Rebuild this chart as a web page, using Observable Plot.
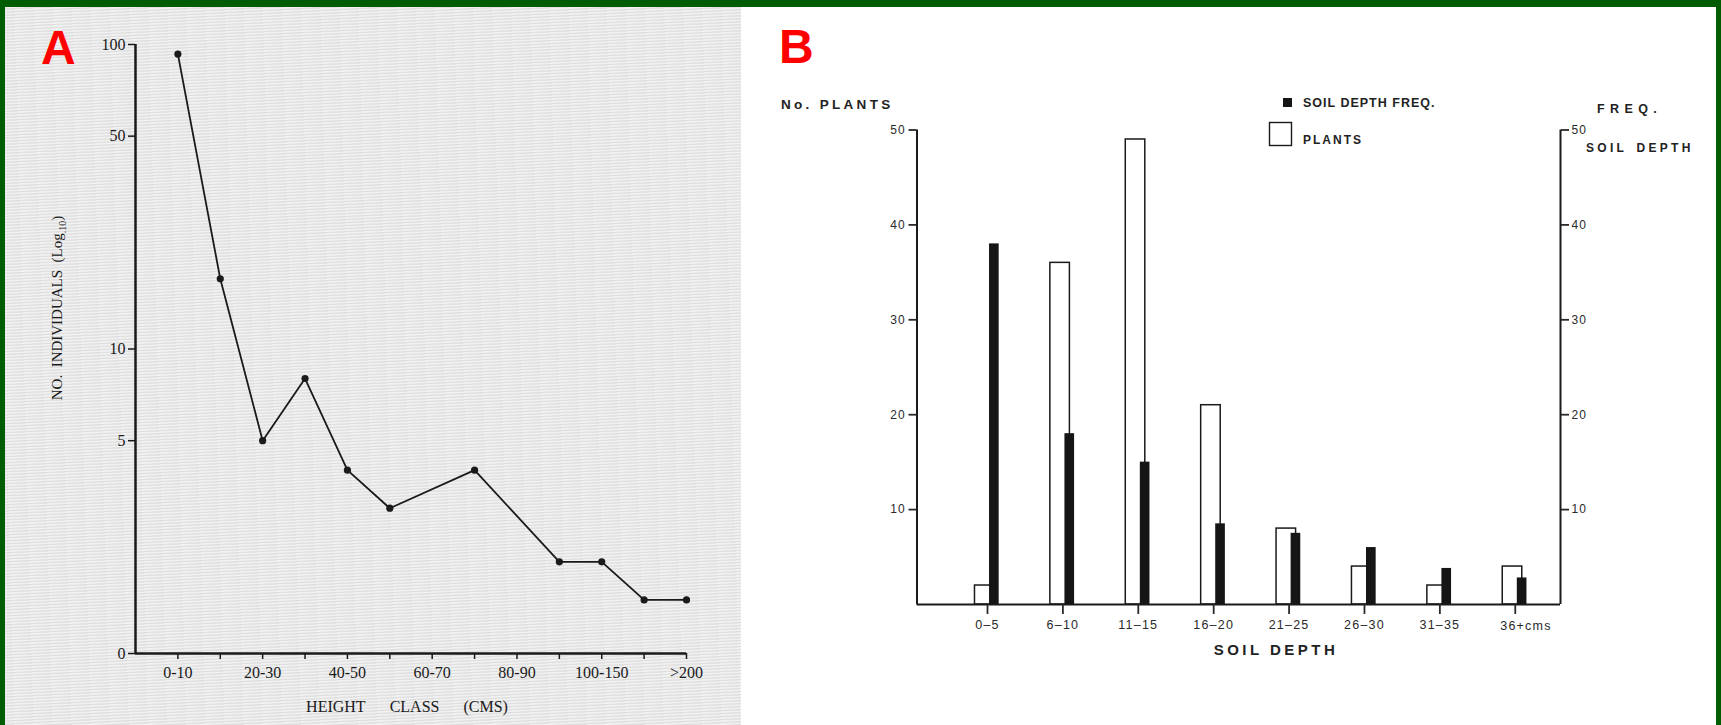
<!DOCTYPE html>
<html>
<head>
<meta charset="utf-8">
<script src="https://cdn.jsdelivr.net/npm/d3@7"></script>
<script src="https://cdn.jsdelivr.net/npm/@observablehq/plot@0.6"></script>
<style>
  html, body { margin: 0; padding: 0; }
  body { width: 1721px; height: 725px; background: #005c00; position: relative; overflow: hidden; }
  #panelA { position: absolute; left: 5px; top: 7px; width: 736px; height: 718px;
    background-color: #e6e6e6;
    background-image: repeating-linear-gradient(177deg, rgba(255,255,255,0.45) 0px, rgba(255,255,255,0.45) 1px, rgba(0,0,0,0.035) 2px, rgba(0,0,0,0) 3px); }
  #panelB { position: absolute; left: 741px; top: 7px; width: 975px; height: 718px; background: #ffffff; }
  #panelA svg, #panelB svg { position: absolute; left: 0; top: 0; }
  #panelB svg text { letter-spacing: 1.2px; }
  #overlay { position: absolute; left: 0; top: 0; pointer-events: none; }
  .serif { font-family: "Liberation Serif", "Times New Roman", serif; fill: #1a1a1a; }
  .bold { font-family: "Liberation Sans", Arial, sans-serif; font-weight: bold; fill: #222; }
  .tag { font-family: "Liberation Sans", Arial, sans-serif; font-weight: bold; fill: #ff0000; font-size: 48px; }
</style>
</head>
<body>
<div id="panelA"></div>
<div id="panelB"></div>
<svg id="overlay" width="1721" height="725">
  <text class="tag" x="41" y="64">A</text>
  <text class="tag" x="779" y="63">B</text>
  <!-- panel A axis titles -->
  <text class="serif" font-size="15" text-anchor="middle" transform="translate(62,308) rotate(-90)">NO.&#8194;INDIVIDUALS&#8194;(Log<tspan font-size="10" dy="4">.10</tspan><tspan dy="-4">)</tspan></text>
  <text class="serif" font-size="16" text-anchor="middle" x="407" y="712">HEIGHT&#8195;&#8194;CLASS&#8195;&#8194;(CMS)</text>
  <!-- panel B titles and legend -->
  <text class="bold" font-size="13.5" letter-spacing="3.3" x="781" y="109">No. PLANTS</text>
  <rect x="1283" y="98" width="9" height="9" fill="#151515"></rect>
  <text class="bold" font-size="12.5" letter-spacing="1" x="1303" y="107">SOIL DEPTH FREQ.</text>
  <rect x="1269.5" y="122.5" width="22" height="23" fill="none" stroke="#1a1a1a" stroke-width="1.4"></rect>
  <text class="bold" font-size="12" letter-spacing="2" x="1303" y="144">PLANTS</text>
  <text class="bold" font-size="12.5" letter-spacing="5.4" x="1597" y="112.5">FREQ.</text>
  <text class="bold" font-size="12" letter-spacing="3.3" x="1586" y="151.5">SOIL&#8194;DEPTH</text>
  <text class="bold" font-size="15" letter-spacing="3.5" text-anchor="middle" x="1276" y="655">SOIL DEPTH</text>
</svg>
<script>
// ---------- Panel A data ----------
const heightClasses = ["0-10", "10-20", "20-30", "30-40", "40-50", "50-60", "60-70", "70-80", "80-90", "90-100", "100-150", "150-200", ">200"];
const heightLabels = ["0-10", "20-30", "40-50", "60-70", "80-90", "100-150", ">200"];
const sampledClasses = ["0-10", "10-20", "20-30", "30-40", "40-50", "50-60", "70-80", "90-100", "100-150", "150-200", ">200"];
const individuals = [93, 17, 5, 8, 4, 3, 4, 2, 2, 1.5, 1.5];
const yTicksA = [1, 5, 10, 50, 100];

// ---------- Panel B data ----------
const soilDepth = ["0\u20135", "6\u201310", "11\u201315", "16\u201320", "21\u201325", "26\u201330", "31\u201335", "36+cms"];
const plants = [2, 36, 49, 21, 8, 4, 2, 4];
const depthFreq = [38, 18, 15, 8.5, 7.5, 6, 3.8, 2.8];
const yTicksB = [10, 20, 30, 40, 50];

// ---------- Panel A ----------
const dataA = sampledClasses.map((c, k) => ({cls: c, i: heightClasses.indexOf(c), n: individuals[k]}));
const xDomA = [-1, heightClasses.length - 1];
const plotA = Plot.plot({
  width: 736, height: 718,
  marginLeft: 130, marginRight: 55, marginTop: 37, marginBottom: 72,
  style: {background: "transparent", fontFamily: "'Liberation Serif', 'Times New Roman', serif", fontSize: "16px", color: "#1a1a1a"},
  x: {type: "linear", domain: xDomA},
  y: {type: "log", domain: [1, 100]},
  marks: [
    Plot.axisX({ticks: d3.range(heightClasses.length), tickSize: 6, tickPadding: 7, strokeWidth: 1.5,
      tickFormat: i => heightLabels.includes(heightClasses[i]) ? heightClasses[i] : "", label: null}),
    Plot.axisY({ticks: yTicksA, tickSize: 7, tickPadding: 3, strokeWidth: 1.5,
      tickFormat: d => d === 1 ? "0" : String(d), label: null}),
    Plot.ruleY([1], {stroke: "#1a1a1a", strokeWidth: 2.5}),
    Plot.ruleX([xDomA[0]], {stroke: "#1a1a1a", strokeWidth: 2.5}),
    Plot.line(dataA, {x: "i", y: "n", stroke: "#1a1a1a", strokeWidth: 1.8}),
    Plot.dot(dataA, {x: "i", y: "n", r: 3.6, fill: "#1a1a1a", stroke: "none"})
  ]
});
document.getElementById("panelA").appendChild(plotA);

// ---------- Panel B ----------
const dataB = soilDepth.map((s, i) => ({s, i, plants: plants[i], freq: depthFreq[i]}));
const xDomB = [-0.935, 7.6];
const plotB = Plot.plot({
  width: 975, height: 718,
  marginLeft: 175.5, marginRight: 156, marginTop: 122.5, marginBottom: 121,
  style: {background: "transparent", fontFamily: "'Liberation Sans', Arial, sans-serif", fontSize: "12px", color: "#2a2a2a"},
  x: {type: "linear", domain: xDomB},
  y: {domain: [0, 50]},
  marks: [
    Plot.rectY(dataB, {x1: d => d.i - 0.166, x2: d => d.i + 0.093, y: "plants", fill: "white", stroke: "#1a1a1a", strokeWidth: 1.5}),
    Plot.rectY(dataB, {x1: d => d.i + 0.027, x2: d => d.i + 0.155, y: "freq", fill: "#151515"}),
    Plot.ruleY([0], {stroke: "#1a1a1a", strokeWidth: 2}),
    Plot.ruleX(xDomB, {stroke: "#1a1a1a", strokeWidth: 2}),
    Plot.axisX({ticks: dataB.map(d => d.i), tickSize: 10, strokeWidth: 1.8, tickFormat: () => "", label: null}),
    Plot.text(dataB.filter(d => !d.s.endsWith("cms")), {x: "i", text: "s", frameAnchor: "bottom", dy: 24, fill: "#2a2a2a", fontSize: 12.5}),
    Plot.text(dataB.filter(d => d.s.endsWith("cms")), {x: "i", text: "s", frameAnchor: "bottom", dy: 25, dx: -15, textAnchor: "start", fill: "#2a2a2a", fontSize: 12.5}),
    Plot.axisY({anchor: "left", ticks: yTicksB, tickSize: 8, tickPadding: 3, strokeWidth: 1.8, label: null}),
    Plot.axisY({anchor: "right", ticks: yTicksB, tickSize: 8, tickPadding: 3, strokeWidth: 1.8, label: null})
  ]
});
document.getElementById("panelB").appendChild(plotB);
</script>
</body>
</html>
